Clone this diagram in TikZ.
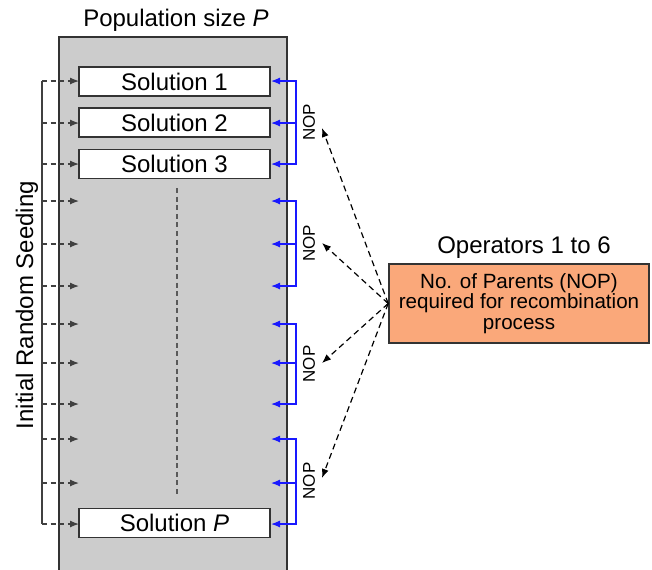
\documentclass[tikz,border=0pt]{standalone}
\usepackage{fontspec}
\setmainfont{Liberation Sans}
\usetikzlibrary{arrows.meta}
\definecolor{popgrey}{RGB}{204,204,204}
\definecolor{oporange}{RGB}{250,168,122}
\definecolor{nopblue}{RGB}{25,25,255}

\begin{document}
\begin{tikzpicture}[x=0.5pt,y=-0.5pt,
    solbox/.style={draw=black!80, fill=white, line width=0.8pt, minimum width=95.5pt,
      minimum height=14.5pt, inner sep=0pt, font=\fontsize{12}{14}\selectfont},
    seedarrow/.style={black!75, line width=0.6pt, dash pattern=on 2.5pt off 1.8pt,
      -{Latex[length=4.5pt,width=3.5pt]}},
    nopline/.style={nopblue, line width=0.6pt},
    nopsign/.style={rotate=90, inner sep=0pt, font=\fontsize{8.5}{10}\selectfont},
    oparrow/.style={black, line width=0.6pt, dash pattern=on 3pt off 2pt,
      -{Latex[length=4.5pt,width=3.5pt]}}]
      \useasboundingbox (0,0) rectangle (652,569);
      \clip (0,0) rectangle (652,569);
      % population
      \draw[fill=popgrey, draw=black!80, line width=1pt] (59,37) rectangle (287,590);
      \node[font=\fontsize{12}{14}\selectfont] (pop) at (176,20) {Population size \textit{P}};
      \draw[black!65, line width=0.6pt, dash pattern=on 2.5pt off 1.8pt] (177,188) -- (177,495);
      \node[solbox] (s1) at (174.5,81.5) {Solution 1};
      \node[solbox] (s2) at (174.5,122.5) {Solution 2};
      \node[solbox] (s3) at (174.5,164) {Solution 3};
      \node[solbox] (sP) at (174.5,523) {Solution \textit{P}};
      % rows
      \foreach \y [count=\i] in {81,123,164,201,244,286,324,363,404,439,483,524} {
        \coordinate (seed\i) at (42,\y);
        \coordinate (in\i) at (79,\y);
        \coordinate (nop\i) at (296,\y);
        \coordinate (out\i) at (271,\y);
      }
      \draw[black!75, line width=0.6pt] (seed1) -- (seed12);
      \foreach \i in {1,...,12}
        \draw[seedarrow] (seed\i) -- (in\i);
      \node[rotate=90, font=\fontsize{12}{14}\selectfont] (seedlab) at (27,305) {Initial Random Seeding};
      % NOP brackets
      \foreach \a/\m/\b in {1/2/3,4/5/6,7/8/9,10/11/12} {
        \draw[nopline, {Latex[length=4.5pt,width=3.5pt]}-{Latex[length=4.5pt,width=3.5pt]}]
          (out\a) -- (nop\a) -- (nop\b) -- (out\b);
        \draw[nopline, -{Latex[length=4.5pt,width=3.5pt]}] (nop\m) -- (out\m);
      }
      \foreach \y/\t [count=\i] in {122.5/128,243.5/243,364/363,481/478} {
        \node[nopsign] (lab\i) at (309,\y) {NOP};
        \coordinate (tip\i) at (322,\t);
      }
      % operators
      \node[font=\fontsize{12}{14}\selectfont] (ops) at (524,248) {Operators 1 to 6};
      \node[draw=black!80, fill=oporange, line width=0.8pt, minimum width=130pt, minimum height=39.5pt,
        inner sep=0pt, align=center, font=\fontsize{10.3}{10.3}\selectfont] (parents) at (519,303.5)
        {No. of Parents (NOP)\\required for recombination\\process};
      \foreach \i in {1,...,4}
        \draw[oparrow] (parents.west) -- (tip\i);
\end{tikzpicture}
\end{document}
